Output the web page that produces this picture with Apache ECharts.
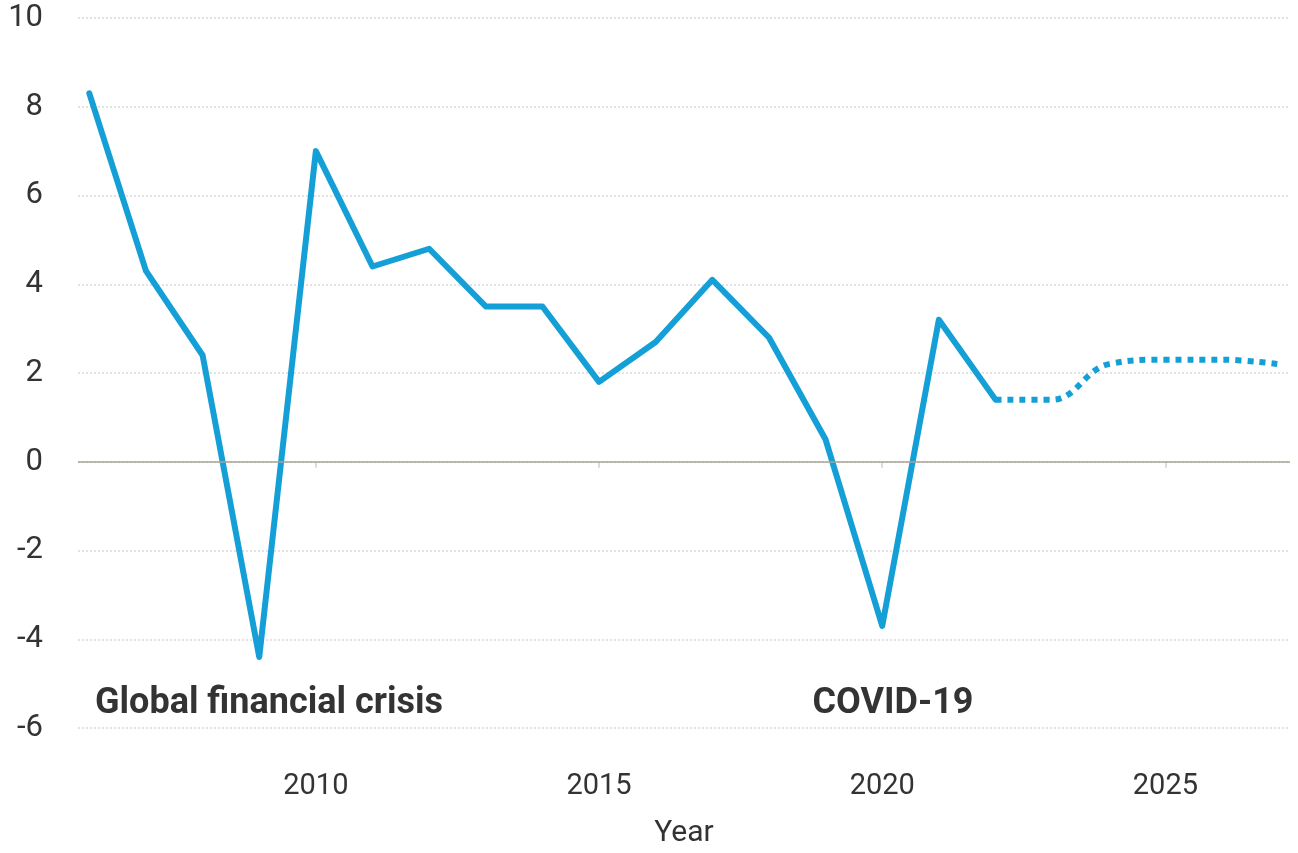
<!DOCTYPE html>
<html>
<head>
<meta charset="utf-8">
<script src="https://cdn.jsdelivr.net/npm/echarts@6/dist/echarts.min.js"></script>
<style>
html,body{margin:0;padding:0;background:#fff;width:100%;height:100%;overflow:hidden;}
#c{width:100%;height:100%;}
</style>
</head>
<body>
<div id="c"></div>
<script>
const actualYears = [2006,2007,2008,2009,2010,2011,2012,2013,2014,2015,2016,2017,2018,2019,2020,2021,2022];
const actualValues = [8.3,4.3,2.4,-4.4,7.0,4.4,4.8,3.5,3.5,1.8,2.7,4.1,2.8,0.5,-3.7,3.2,1.4];
const forecastYears = [2022,2023,2024,2025,2026,2027];
const forecastValues = [1.4,1.4,2.2,2.3,2.3,2.2];
const xTickValues = [2010,2015,2020,2025];
const annotations = [
  {year: 2006.1, value: -5.45, text: 'Global financial crisis'},
  {year: 2018.77, value: -5.45, text: 'COVID-19'}
];

const lineColor = '#149fd7';
const chart = echarts.init(document.getElementById('c'));
chart.setOption({
  animation: false,
  backgroundColor: '#fff',
  grid: {left: 78, right: 8, top: 18, bottom: 97, containLabel: false},
  xAxis: {
    type: 'value',
    min: 2005.8,
    max: 2027.2,
    name: 'Year',
    nameLocation: 'middle',
    nameGap: 90,
    nameTextStyle: {fontFamily: 'Roboto', fontSize: 30, color: '#333'},
    axisLine: {show: false},
    splitLine: {show: false},
    axisTick: {show: true, customValues: xTickValues, length: 6, lineStyle: {color: '#ccd0d8', width: 1.5}},
    axisLabel: {customValues: xTickValues, formatter: v => String(v), fontFamily: 'Roboto', fontSize: 29, color: '#333', margin: 44}
  },
  yAxis: {
    type: 'value',
    min: -6,
    max: 10,
    interval: 2,
    axisLine: {show: false},
    axisTick: {show: false},
    axisLabel: {fontFamily: 'Roboto', fontSize: 31, color: '#333', margin: 35},
    splitLine: {show: true, lineStyle: {type: [2, 2], color: '#d9d9d9', width: 1.5}}
  },
  series: [
    {
      type: 'line',
      data: actualYears.map((y, i) => [y, actualValues[i]]),
      symbol: 'none',
      lineStyle: {color: lineColor, width: 6, join: 'round', cap: 'round'},
      markLine: {
        silent: true,
        symbol: 'none',
        label: {show: false},
        lineStyle: {type: 'solid', color: '#a7a396', width: 1.5},
        data: [{yAxis: 0}]
      },
      markPoint: {
        silent: true,
        symbol: 'circle',
        symbolSize: 0,
        label: {
          show: true,
          position: 'right',
          distance: 0,
          formatter: p => p.name,
          fontFamily: 'Roboto',
          fontWeight: 'bold',
          fontSize: 36,
          color: '#333'
        },
        data: annotations.map(a => ({name: a.text, coord: [a.year, a.value]}))
      },
      z: 3
    },
    {
      type: 'line',
      data: forecastYears.map((y, i) => [y, forecastValues[i]]),
      symbol: 'none',
      smooth: 0.4,
      lineStyle: {color: lineColor, width: 6, type: [6, 6], cap: 'butt'},
      z: 3
    }
  ]
});
</script>
</body>
</html>
